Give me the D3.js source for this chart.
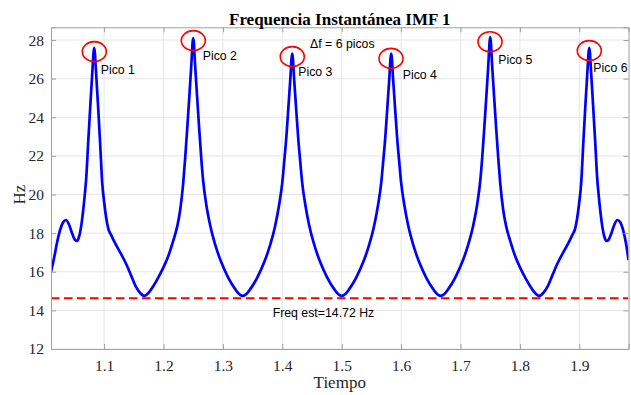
<!DOCTYPE html>
<html>
<head>
<meta charset="utf-8">
<script src="https://cdn.jsdelivr.net/npm/d3@7"></script>
<style>
  html, body { margin: 0; padding: 0; background: #fff; }
  svg { display: block; }
</style>
</head>
<body>
<svg id="chart" width="631" height="395"></svg>
<script>
// ---------------- DATA ----------------
const time = [
  1.0106,1.0157,1.0207,1.0258,1.0308,1.0359,1.0409,1.0460,1.0510,1.0544,1.0577,1.0611,1.0645,1.0678,1.0698,1.0732,1.0766,1.0799,1.0833,
  1.0867,1.0900,1.0934,1.0968,1.1001,1.1035,1.1069,1.1119,1.1187,1.1271,1.1372,1.1456,1.1540,1.1607,1.1675,
  1.1759,1.1827,1.1911,1.1995,1.2079,1.2163,1.2231,1.2281,1.2332,1.2365,1.2399,1.2433,1.2466,1.2500,
  1.2534,1.2567,1.2601,1.2635,1.2668,1.2719,1.2786,1.2870,1.2971,1.3089,1.3207,1.3291,1.3333,
  1.3376,1.3460,1.3578,1.3696,1.3797,1.3881,1.3948,1.3999,1.4032,1.4066,1.4100,1.4133,1.4167,
  1.4201,1.4234,1.4268,1.4302,1.4335,1.4386,1.4453,1.4537,1.4638,1.4756,1.4874,1.4958,1.5000,
  1.5042,1.5126,1.5244,1.5362,1.5463,1.5547,1.5614,1.5665,1.5698,1.5732,1.5766,1.5799,1.5833,
  1.5867,1.5900,1.5934,1.5968,1.6001,1.6052,1.6119,1.6203,1.6304,1.6422,1.6540,1.6624,1.6667,
  1.6709,1.6793,1.6911,1.7029,1.7130,1.7214,1.7281,1.7332,1.7365,1.7399,1.7433,1.7466,1.7500,
  1.7534,1.7567,1.7601,1.7635,1.7668,1.7719,1.7769,1.7837,1.7921,1.8005,1.8089,1.8173,1.8241,1.8325,
  1.8393,1.8460,1.8544,1.8628,1.8729,1.8813,1.8881,1.8931,1.8965,1.8999,1.9032,1.9066,1.9100,1.9133,1.9167,
  1.9201,1.9234,1.9268,1.9302,1.9322,1.9355,1.9389,1.9423,1.9456,1.9490,1.9540,1.9591,1.9641,1.9692,1.9742,1.9793,1.9828
];
const freq = [
  16.0,16.7,17.5,18.15,18.55,18.68,18.45,18.0,17.65,17.6,17.8,18.3,19.1,20.1,20.8,22.7,24.5,26.2,27.6,
  26.2,24.5,22.6,20.6,19.6,18.8,18.25,17.9,17.47,17.0,16.4,15.8,15.2,14.9,14.75,
  14.95,15.25,15.7,16.2,16.8,17.6,18.35,19.2,20.6,21.9,23.4,25.0,26.6,28.1,
  26.6,25.0,23.4,21.9,20.7,19.5,18.4,17.4,16.5,15.7,15.1,14.8,14.75,
  14.8,15.1,15.7,16.5,17.4,18.4,19.5,20.6,21.7,22.9,24.4,25.9,27.3,
  25.9,24.4,22.9,21.7,20.6,19.5,18.4,17.4,16.5,15.7,15.1,14.8,14.75,
  14.8,15.1,15.7,16.5,17.4,18.4,19.5,20.6,21.7,22.9,24.4,25.9,27.3,
  25.9,24.4,22.9,21.7,20.6,19.5,18.4,17.4,16.5,15.7,15.1,14.8,14.75,
  14.8,15.1,15.7,16.5,17.4,18.4,19.5,20.7,21.9,23.4,25.0,26.6,28.15,
  26.6,25.0,23.4,21.9,20.6,19.2,18.35,17.6,16.8,16.2,15.7,15.25,14.95,14.75,
  14.9,15.2,15.8,16.4,17.0,17.47,17.9,18.25,18.8,19.6,20.6,22.6,24.5,26.2,27.6,
  26.2,24.5,22.7,20.8,20.1,19.1,18.3,17.8,17.6,17.65,18.0,18.45,18.68,18.55,18.1,17.35,16.6
];
const xDomain = [1.0106, 1.9828];
const yDomain = [12, 28.66];
const xTicks = [1.1, 1.2, 1.3, 1.4, 1.5, 1.6, 1.7, 1.8, 1.9];
const yTicks = [12, 14, 16, 18, 20, 22, 24, 26, 28];
const peakLabels = ["Pico 1", "Pico 2", "Pico 3", "Pico 4", "Pico 5", "Pico 6"];
const peakTime = [1.0835, 1.2502, 1.4168, 1.5830, 1.7497, 1.9168];
const peakFreq = [27.40, 27.97, 27.14, 27.05, 27.91, 27.45];
const labelTime = [1.0943, 1.2660, 1.4269, 1.6027, 1.7636, 1.9236];
const labelFreq = [26.22, 26.97, 26.14, 26.00, 26.78, 26.37];
const freqEst = 14.63;
const freqEstText = "Freq est=14.72 Hz";
const freqEstPos = [1.3838, 13.68];
const deltaText = "\u0394f = 6 picos";
const deltaPos = [1.4466, 27.61];
const titleText = "Frequencia Instantánea IMF 1";
const xLabel = "Tiempo";
const yLabel = "Hz";

// ---------------- LAYOUT ----------------
const W = 631, H = 395;
const L = 51, R = 628.5, T = 27.3, B = 349;
const svg = d3.select("#chart");
svg.append("rect").attr("width", W).attr("height", H).attr("fill", "#fff");

const x = d3.scaleLinear().domain(xDomain).range([L, R]);
const y = d3.scaleLinear().domain(yDomain).range([B, T]);

// grid
const grid = svg.append("g");
grid.selectAll("line.gx").data(xTicks).join("line")
  .attr("x1", d => x(d)).attr("x2", d => x(d)).attr("y1", T).attr("y2", B)
  .attr("stroke", "#e6e6e6").attr("stroke-width", 1);
grid.selectAll("line.gy").data(yTicks).join("line")
  .attr("x1", L).attr("x2", R).attr("y1", d => y(d)).attr("y2", d => y(d))
  .attr("stroke", "#e6e6e6").attr("stroke-width", 1);

// clip
svg.append("clipPath").attr("id", "clip").append("rect")
  .attr("x", L).attr("y", T).attr("width", R - L).attr("height", B - T);

const plot = svg.append("g").attr("clip-path", "url(#clip)");

// estimated frequency dashed line
plot.append("line")
  .attr("x1", x(xDomain[0])).attr("x2", x(xDomain[1]))
  .attr("y1", y(freqEst)).attr("y2", y(freqEst))
  .attr("stroke", "#ff0000").attr("stroke-width", 2)
  .attr("stroke-dasharray", "8.5,4.5");

// curve
const pts = time.map((t, i) => [t, freq[i]]);
const line = d3.line().x(d => x(d[0])).y(d => y(d[1])).curve(d3.curveMonotoneX);
plot.append("path").datum(pts)
  .attr("d", line)
  .attr("fill", "none").attr("stroke", "#0000ff")
  .attr("stroke-width", 2.7).attr("stroke-linejoin", "round");

// peak circles
svg.append("g").selectAll("ellipse").data(peakTime).join("ellipse")
  .attr("cx", (d, i) => x(d)).attr("cy", (d, i) => y(peakFreq[i]))
  .attr("rx", 12).attr("ry", 10)
  .attr("fill", "none").attr("stroke", "#ff0000").attr("stroke-width", 1.6);

// axes
const axG = svg.append("g");
const axisColor = "#a0a0a0";
const xAxis = d3.axisBottom(x).tickValues(xTicks).tickSize(-5).tickPadding(11).tickFormat(d3.format(".1f"));
const xAxisTop = d3.axisTop(x).tickValues(xTicks).tickSize(-5).tickFormat("");
const yAxis = d3.axisLeft(y).tickValues(yTicks).tickSize(-5).tickPadding(7).tickFormat(d3.format("d"));
const yAxisRight = d3.axisRight(y).tickValues(yTicks).tickSize(-5).tickFormat("");

const gx = axG.append("g").attr("transform", `translate(0,${B})`).call(xAxis);
const gxt = axG.append("g").attr("transform", `translate(0,${T})`).call(xAxisTop);
const gy = axG.append("g").attr("transform", `translate(${L},0)`).call(yAxis);
const gyr = axG.append("g").attr("transform", `translate(${R},0)`).call(yAxisRight);
[gx, gxt, gy, gyr].forEach(g => {
  g.select(".domain").attr("stroke", axisColor).attr("stroke-width", 1);
  g.selectAll(".tick line").attr("stroke", axisColor).attr("stroke-width", 1);
  g.selectAll(".tick text").attr("fill", "#262626")
    .attr("font-family", "'Liberation Serif', 'Times New Roman', serif").attr("font-size", 15.5);
});

// annotations
const ann = svg.append("g").attr("font-family", "'Liberation Sans', Arial, sans-serif")
  .attr("font-size", 12.3).attr("fill", "#000");
ann.selectAll("text.pk").data(peakLabels).join("text")
  .attr("x", (d, i) => x(labelTime[i])).attr("y", (d, i) => y(labelFreq[i]))
  .text(d => d);
ann.append("text").attr("x", x(deltaPos[0])).attr("y", y(deltaPos[1])).text(deltaText);
ann.append("text").attr("x", x(freqEstPos[0])).attr("y", y(freqEstPos[1])).text(freqEstText);

// title & labels
svg.append("text").attr("x", (L + R) / 2).attr("y", 25)
  .attr("text-anchor", "middle").attr("font-family", "'Liberation Serif', 'Times New Roman', serif")
  .attr("font-weight", "bold").attr("font-size", 17).attr("fill", "#000").text(titleText);
svg.append("text").attr("x", (L + R) / 2).attr("y", 388)
  .attr("text-anchor", "middle").attr("font-family", "'Liberation Serif', 'Times New Roman', serif")
  .attr("font-size", 17).attr("fill", "#262626").text(xLabel);
svg.append("text").attr("transform", `translate(25,${y(20)}) rotate(-90)`)
  .attr("text-anchor", "middle").attr("font-family", "'Liberation Serif', 'Times New Roman', serif")
  .attr("font-size", 17).attr("fill", "#262626").text(yLabel);
</script>
</body>
</html>
